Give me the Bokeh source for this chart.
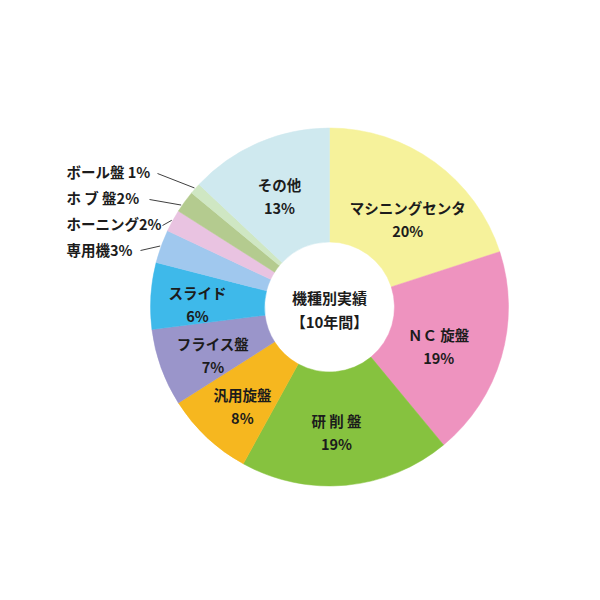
import numpy as np
from bokeh.plotting import figure
from bokeh.models import Range1d, ColumnDataSource
from bokeh.core.properties import value
from bokeh.embed import file_html
from bokeh.resources import INLINE

# ---- data ----
CATEGORIES = ["マシニングセンタ", "ＮＣ 旋盤", "研 削 盤", "汎用旋盤", "フライス盤",
              "スライド", "専用機", "ホーニング", "ホ ブ 盤", "ボール盤 ", "その他"]
SHARES = [20, 19, 19, 8, 7, 6, 3, 2, 2, 1, 13]
CENTER_TITLE = ["機種別実績", "【10年間】"]

# ---- styles ----
COLORS = ["#F6F29B", "#EE93BF", "#86C23F", "#F6B71F", "#9A95CA", "#3EB9EA",
          "#A0C8EE", "#E9C3E1", "#B4CB8F", "#CFE7C3", "#CFE9EF"]
FONT = value("Noto Sans CJK JP")
TXT = "#1c1c1c"
CX, CY = 329.0, 600 - 306.5
R_OUT, R_IN = 179.0, 65.0
# inside label placement (radius, angular nudge in degrees)
LABEL_R = [118, 116, 125, 132, 126, 132, 0, 0, 0, 0, 122]
LABEL_NUDGE = [5.5, 3.5, 2.2, -1.9, -2.5, -2.3, 0, 0, 0, 0, -0.8]
# outside labels: left x, pixel y of text, leader start point (pixel)
OUT_X = 66
OUT_Y = {6: 249, 7: 223, 8: 197, 9: 171}
LEADER_START = {6: (140, 250), 7: (162, 225), 8: (149, 199), 9: (157, 173)}
LEADER_END_NUDGE = {6: 0.0, 7: 0.0, 8: -1.5, 9: 0.0}

shares = np.array(SHARES, dtype=float)
cum = np.concatenate([[0], np.cumsum(shares)])
theta0 = cum[:-1] / cum[-1] * 360.0   # degrees from top, clockwise
theta1 = cum[1:] / cum[-1] * 360.0
mid = (theta0 + theta1) / 2

src = ColumnDataSource(dict(
    start=np.pi / 2 - np.radians(theta0),
    end=np.pi / 2 - np.radians(theta1),
    color=COLORS,
))

p = figure(width=584, height=584, output_backend="svg", toolbar_location=None,
           x_range=Range1d(0, 584), y_range=Range1d(16, 600), min_border=0)
p.axis.visible = False
p.grid.visible = False
p.outline_line_color = None
p.background_fill_color = "white"

p.annular_wedge(x=CX, y=CY, inner_radius=R_IN, outer_radius=R_OUT,
                start_angle="start", end_angle="end", direction="clock",
                fill_color="color", line_color="color", line_width=0.5, source=src)

# inside labels
in_idx = [i for i, s in enumerate(SHARES) if s > 3]
lx, ly, names, pcts = [], [], [], []
for i in in_idx:
    a = np.radians(mid[i] + LABEL_NUDGE[i])
    lx.append(CX + LABEL_R[i] * np.sin(a))
    ly.append(CY + LABEL_R[i] * np.cos(a))
    names.append(CATEGORIES[i])
    pcts.append(f"{SHARES[i]}%")
ly = np.array(ly)
p.text(x=lx, y=ly + 11.5, text=names, text_font=FONT, text_font_style="bold",
       text_font_size="14.5px", text_color=TXT, text_align="center", text_baseline="middle")
p.text(x=lx, y=ly - 11.5, text=pcts, text_font=FONT, text_font_style="bold",
       text_font_size="14.5px", text_color=TXT, text_align="center", text_baseline="middle")

# outside labels with leaders
out_idx = [i for i, s in enumerate(SHARES) if s <= 3]
ox, oy, otext, xs, ys = [], [], [], [], []
for i in out_idx:
    ox.append(OUT_X)
    oy.append(600 - OUT_Y[i])
    otext.append(f"{CATEGORIES[i]}{SHARES[i]}%")
    a = np.radians(mid[i] + LEADER_END_NUDGE[i])
    sx, sy = LEADER_START[i]
    xs.append([sx, CX + (R_OUT + 1) * np.sin(a)])
    ys.append([600 - sy, CY + (R_OUT + 1) * np.cos(a)])
p.multi_line(xs=xs, ys=ys, line_color="#404040", line_width=1)
p.text(x=ox, y=oy, text=otext, text_font=FONT, text_font_style="bold",
       text_font_size="14.5px", text_color=TXT, text_align="left", text_baseline="middle")

# center title
p.text(x=[CX, CX], y=[CY + 9.5, CY - 14.5], text=CENTER_TITLE, text_font=FONT,
       text_font_style="bold", text_font_size="15px", text_color=TXT,
       text_align="center", text_baseline="middle")

open("out.html", "w").write(file_html(p, INLINE))
